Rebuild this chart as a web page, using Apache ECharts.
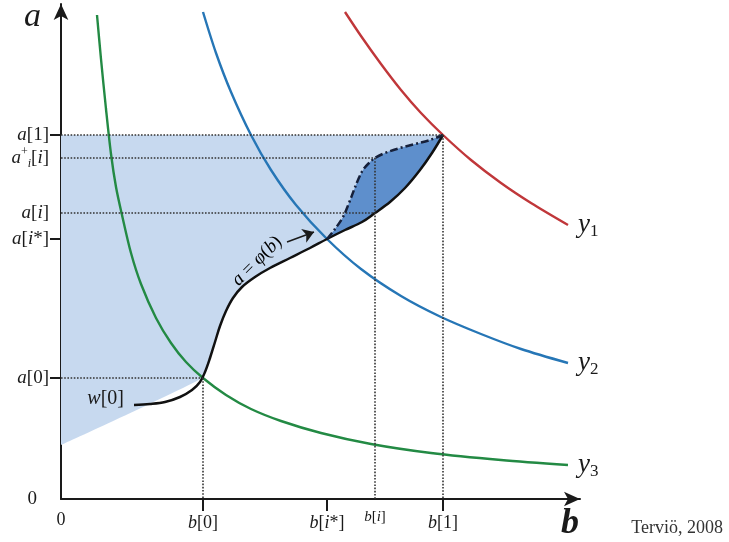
<!DOCTYPE html>
<html><head><meta charset="utf-8">
<script src="https://cdn.jsdelivr.net/npm/echarts@6/dist/echarts.min.js"></script>
<style>html,body{margin:0;padding:0;background:#fff}#c{width:729px;height:542px}</style>
</head><body><div id="c"></div>
<script>
// ---- tick positions (schematic units) ----
const aTickValues = [0, 121, 260, 286, 341, 364];           // 0, a[0], a[i*], a[i], a_i^+[i], a[1]
const aTickLabels = ['{z|0}', '{i|a}[0]', '{i|a}[{i|i}*]', '{i|a}[{i|i}]', '{i|a}{sup|+}{sub|i}[{i|i}]', '{i|a}[1]'];
const aTickMarks  = [121, 260, 364];
const bTickValues = [0, 142, 266, 382];                      // 0, b[0], b[i*], b[1]
const bTickLabels = ['0', '{i|b}[0]', '{i|b}[{i|i}*]', '{i|b}[1]'];
const bTickMarks  = [142, 266, 382];
const bI = 314;                                              // b[i]
const bILabel = '{i|b}[{i|i}]';

// ---- curves ----
const y1Curve = [[284,487],[300,463],[320,435],[340,409],[360,386],[382,364],[410,339],[440,316],[470,296],[507,274]];
const y2Curve = [[142,487],[155,446],[170,407],[190,364],[210,329],[235,294],[266,260],[300,230],[340,203],[380,182],[420,165],[460,150],[507,136]];
const y3Curve = [[36,484],[40,440],[45,390],[50,345],[55,312],[61,284],[70,246],[80,215],[95,181],[110,156],[125,137],[142,121],[165,104],[190,90],[220,78],[260,66],[310,55],[370,46],[440,39],[507,34]];
const phiCurve = [[73,94],[89,95],[104,97],[119,102],[131,109],[139,117],[144,127],[149,141],[154,157],[159,173],[165,188],[172,201],[181,212],[194,222],[209,231],[229,241],[249,251],[266,260],[284,269],[301,277],[314,286],[329,297],[344,311],[359,329],[371,346],[382,364]];
const upperCurve = [[266,260],[274,270],[282,282],[288,296],[293,309],[297,319],[302,329],[308,336],[314,341],[324,346],[339,351],[354,355],[369,359],[382,364]];
const lowerEdge = [[0,54],[142,121]];
const curveNames = ['y1', 'y2', 'y3'];

// annotation anchors
const phiTextAt = [196, 238];
const arrowFrom = [226, 257];
const arrowTo = [253, 267];

const A1 = aTickValues[5], APLUS = aTickValues[4], AI = aTickValues[3], A0 = aTickValues[1];
const B0 = bTickValues[1], BSTAR = bTickValues[2], B1 = bTickValues[3];

const SERIF = 'Liberation Serif';
const INK = '#1a1a1a';
const LIGHT = '#c7d9ef';
const DARK = '#5e8fcc';

const richBase = {
  i: {fontFamily: SERIF, fontStyle: 'italic', fontSize: 19, color: INK, lineHeight: 24},
  z: {fontFamily: SERIF, fontSize: 19, color: INK, padding: [0, 12, 0, 0], lineHeight: 24},
  sup: {fontFamily: SERIF, fontSize: 12, color: INK, verticalAlign: 'top', lineHeight: 12},
  sub: {fontFamily: SERIF, fontStyle: 'italic', fontSize: 12, color: INK, verticalAlign: 'bottom', lineHeight: 12}
};

const fillArea = lowerEdge.concat(phiCurve.filter(p => p[0] > lowerEdge[1][0]));
const split = BSTAR / B1;

const chart = echarts.init(document.getElementById('c'), null, {renderer: 'canvas'});
const dotted = {type: 'dotted', color: '#333', width: 1.6};
const seg = (p, q, extra) => [Object.assign({coord: p}, extra || {}), {coord: q}];
const yLabel = n => ({show: true, distance: 10, formatter: '{y|y}{s|' + n + '}',
  rich: {y: {fontFamily: SERIF, fontStyle: 'italic', fontSize: 27, color: INK, lineHeight: 30},
         s: {fontFamily: SERIF, fontSize: 17, color: INK, verticalAlign: 'bottom', lineHeight: 14}}});

chart.setOption({
  animation: false,
  backgroundColor: '#fff',
  title: {
    text: 'Terviö, 2008', right: 1, bottom: 0,
    textStyle: {fontFamily: SERIF, fontSize: 18, fontWeight: 'normal', color: '#333'}
  },
  grid: {left: 61, right: 149, top: 4, bottom: 43},
  xAxis: {
    type: 'value', min: 0, max: 519,
    name: 'b', nameLocation: 'end', nameGap: -10,
    nameTextStyle: {fontFamily: SERIF, fontStyle: 'italic', fontWeight: 'bold', fontSize: 36, color: INK,
      align: 'center', verticalAlign: 'top', padding: [7, 0, 0, 0]},
    splitLine: {show: false},
    axisLine: {onZero: false, symbol: ['none', 'arrow'], symbolSize: [11, 16], lineStyle: {color: INK, width: 2}},
    axisTick: {show: true, customValues: bTickMarks, length: 12, lineStyle: {color: INK, width: 2}},
    axisLabel: {
      customValues: bTickValues, margin: 12, fontFamily: SERIF, fontSize: 18, color: INK,
      formatter: v => bTickLabels[bTickValues.indexOf(v)] || '',
      rich: Object.assign({}, richBase, {i: Object.assign({}, richBase.i, {fontSize: 18})})
    }
  },
  yAxis: {
    type: 'value', min: 0, max: 495,
    name: 'a', nameLocation: 'end', nameGap: -13,
    nameTextStyle: {fontFamily: SERIF, fontStyle: 'italic', fontSize: 34, color: INK,
      align: 'right', verticalAlign: 'middle', padding: [0, 20, 0, 0]},
    splitLine: {show: false},
    axisLine: {onZero: false, symbol: ['none', 'arrow'], symbolSize: [11, 16], lineStyle: {color: INK, width: 2}},
    axisTick: {show: true, customValues: aTickMarks, length: 11, lineStyle: {color: INK, width: 2}},
    axisLabel: {
      customValues: aTickValues, margin: 12, fontFamily: SERIF, fontSize: 19, color: INK,
      formatter: v => aTickLabels[aTickValues.indexOf(v)] || '',
      rich: richBase
    }
  },
  series: [
    {
      type: 'line', data: fillArea, smooth: 0.35, symbol: 'none', z: 1,
      lineStyle: {width: 0},
      areaStyle: {
        origin: A1, opacity: 1,
        color: new echarts.graphic.LinearGradient(0, 0, 1, 0, [
          {offset: 0, color: LIGHT}, {offset: split, color: LIGHT},
          {offset: split, color: DARK}, {offset: 1, color: DARK}
        ])
      }
    },
    {
      type: 'line', data: upperCurve, smooth: 0.35, symbol: 'none', z: 1,
      lineStyle: {width: 0},
      areaStyle: {origin: A1, opacity: 1, color: LIGHT}
    },
    {
      type: 'line', data: [], z: 2,
      markLine: {
        silent: true, symbol: ['none', 'none'], label: {show: false},
        lineStyle: dotted,
        data: [
          seg([0, A1], [B1, A1]),
          seg([0, APLUS], [bI, APLUS]),
          seg([0, AI], [bI, AI]),
          seg([0, A0], [B0, A0]),
          seg([B0, A0], [B0, 0]),
          seg([B1, A1], [B1, 0]),
          [{coord: [bI, APLUS], label: {show: true, position: 'end', distance: 11, formatter: bILabel,
             fontFamily: SERIF, fontSize: 15, color: INK,
             rich: {i: {fontFamily: SERIF, fontStyle: 'italic', fontSize: 15, color: INK}}}},
           {coord: [bI, 0]}],
          [{coord: arrowFrom, symbol: 'none', lineStyle: {type: 'solid', color: INK, width: 1.6}},
           {coord: arrowTo, symbol: 'arrow', symbolSize: 11}]
        ]
      }
    },
    {
      type: 'line', name: curveNames[0], data: y1Curve, smooth: 0.3, symbol: 'none', z: 3,
      lineStyle: {color: '#c0373a', width: 2.4}, endLabel: yLabel(1)
    },
    {
      type: 'line', name: curveNames[1], data: y2Curve, smooth: 0.3, symbol: 'none', z: 3,
      lineStyle: {color: '#2676b6', width: 2.4}, endLabel: yLabel(2)
    },
    {
      type: 'line', name: curveNames[2], data: y3Curve, smooth: 0.3, symbol: 'none', z: 3,
      lineStyle: {color: '#238a44', width: 2.4}, endLabel: yLabel(3)
    },
    {
      type: 'line', name: 'phi', smooth: 0.35, symbol: 'none', z: 4,
      lineStyle: {color: '#111', width: 2.5},
      data: phiCurve.map((p, k) => k === 0 ? {value: p, symbol: 'circle', symbolSize: 0.01,
        label: {show: true, position: 'left', distance: 10, offset: [0, -6], formatter: '{i|w}[0]',
          fontFamily: SERIF, fontSize: 20, color: INK,
          rich: {i: {fontFamily: SERIF, fontStyle: 'italic', fontSize: 20, color: INK}}}} : p)
    },
    {
      type: 'line', name: 'upper', data: upperCurve, smooth: 0.35, symbol: 'none', z: 4,
      lineStyle: {color: '#16203a', width: 2.5, type: [8, 3, 2, 3]}
    },
    {
      type: 'scatter', data: [phiTextAt], symbolSize: 1, z: 5, silent: true,
      itemStyle: {color: 'rgba(0,0,0,0)', opacity: 1},
      label: {show: true, position: 'inside', rotate: 45, formatter: '{i|a} = {i|φ}({i|b})',
        fontFamily: SERIF, fontSize: 19, color: '#000', opacity: 1, textBorderWidth: 0,
        rich: {i: {fontFamily: SERIF, fontStyle: 'italic', fontSize: 19, color: '#000'}}}
    }
  ]
});
</script>
</body></html>
